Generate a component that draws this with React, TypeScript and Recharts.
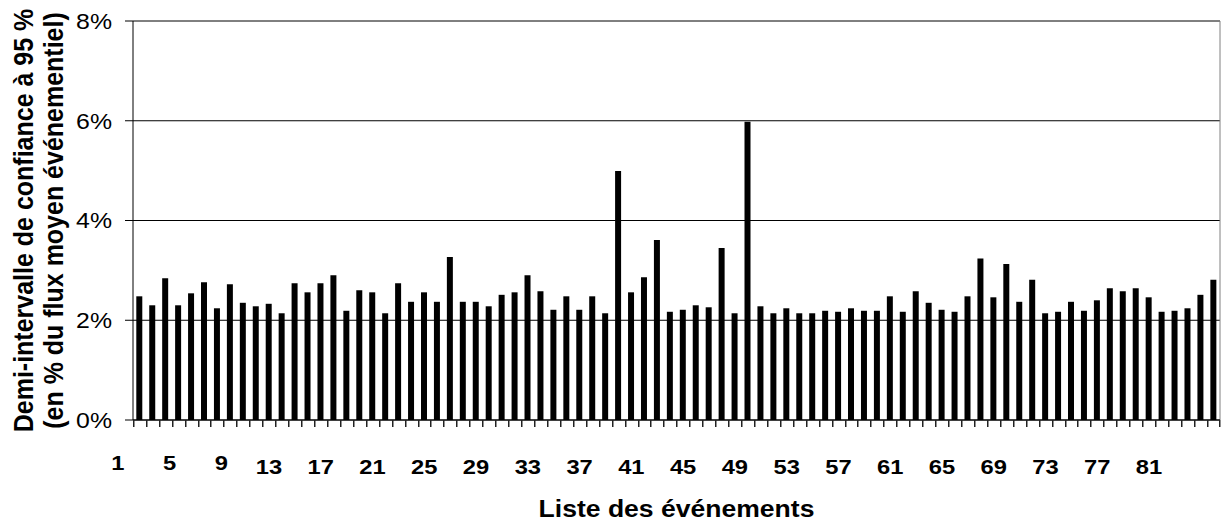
import React from 'react';
import { BarChart, Bar, XAxis, YAxis, CartesianGrid, ReferenceLine, Label, LabelList } from 'recharts';

const events = [
  '1', '2', '3', '4', '5', '6', '7', '8', '9', '10', '11', '12', '13', '14', '15', '16', '17', '18', '19', '20', '21',
  '22', '23', '24', '25', '26', '27', '28', '29', '30', '31', '32', '33', '34', '35', '36', '37', '38', '39', '40', '41', '42',
  '43', '44', '45', '46', '47', '48', '49', '50', '51', '52', '53', '54', '55', '56', '57', '58', '59', '60', '61', '62', '63',
  '64', '65', '66', '67', '68', '69', '70', '71', '72', '73', '74', '75', '76', '77', '78', '79', '80', '81', '82', '83', '84',
];

const halfInterval = [
  2.48, 2.30, 2.84, 2.30, 2.54, 2.76, 2.24, 2.72, 2.35, 2.28, 2.33, 2.14, 2.74, 2.56, 2.74, 2.90, 2.19, 2.60, 2.56, 2.14, 2.74,
  2.37, 2.56, 2.37, 3.27, 2.37, 2.37, 2.28, 2.51, 2.56, 2.90, 2.58, 2.21, 2.48, 2.21, 2.48, 2.14, 4.99, 2.56, 2.86, 3.61, 2.17,
  2.21, 2.30, 2.26, 3.45, 2.14, 5.98, 2.28, 2.14, 2.24, 2.14, 2.14, 2.19, 2.17, 2.24, 2.19, 2.19, 2.48, 2.17, 2.58, 2.35, 2.21,
  2.17, 2.48, 3.24, 2.46, 3.13, 2.37, 2.81, 2.14, 2.17, 2.37, 2.19, 2.40, 2.64, 2.58, 2.64, 2.46, 2.17, 2.19, 2.24, 2.51, 2.81,
];

const yTicks = [0, 2, 4, 6, 8];
const labelEvery = 4;
const yTitleLines = ['Demi-intervalle de confiance à 95 %', '(en % du flux moyen événementiel)'];
const xTitle = 'Liste des événements';

const data = events.map((e, i) => ({ event: e, value: halfInterval[i] }));

const FONT = '"Liberation Sans", Arial, Helvetica, sans-serif';
const SX = 1.13;
const W = 1221;
const H = 529;
const MARGIN = { top: 21, right: 1, bottom: 49, left: 73 };
const Y_AXIS_W = 60;
const X_AXIS_H = 60;
const PLOT_W = W - MARGIN.left - MARGIN.right - Y_AXIS_W;
const HALF_BAND = PLOT_W / events.length / 2;
const XT_FONT = 21;
const TICK_COLOR = '#222222';

function renderEventTick(props: any) {
  const { x, y, width, height, index, value } = props;
  const cx = Number(x) + Number(width) / 2;
  const by = Number(y) + Number(height);
  const i = Number(index);
  const left = Math.round(cx - HALF_BAND);
  const right = Math.round(cx + HALF_BAND) - 1;
  let label: any = null;
  if (i % labelEvery === 0) {
    const w = 0.556 * XT_FONT * String(value).length;
    const cap = 0.716 * XT_FONT;
    const ax = cx - 12;
    const ay = by + 44;
    const lx = ax - (0.707 * (w + cap)) / 2;
    const ly = ay + (0.707 * (w - cap)) / 2;
    label = (
      <g transform={`translate(${lx},${ly}) scale(${SX},1)`}>
        <text
          x={0}
          y={0}
          dy="0.355em"
          textAnchor="middle"
          fontSize={XT_FONT}
          fontWeight="bold"
          fontFamily={FONT}
          fill="#000"
        >
          {value}
        </text>
      </g>
    );
  }
  return (
    <g key={`evt-${i}`}>
      <rect x={left} y={by} width={1.5} height={7} fill={TICK_COLOR} />
      {i === events.length - 1 ? <rect x={right} y={by} width={1.5} height={7} fill={TICK_COLOR} /> : null}
      {label}
    </g>
  );
}

function renderYTick(props: any) {
  const { x, y, payload } = props;
  return (
    <g transform={`translate(${x},${y}) scale(${SX},1)`}>
      <text x={0} y={0} textAnchor="end" dy="0.355em" fontSize={22} fontFamily={FONT} fill="#000">
        {`${payload.value}%`}
      </text>
    </g>
  );
}

function YTitle(props: any) {
  const vb = props.viewBox || { x: MARGIN.left, y: MARGIN.top, width: Y_AXIS_W, height: 399 };
  const cy = vb.y + vb.height / 2;
  const baselines = [33, 63];
  return (
    <g>
      {yTitleLines.map((t, i) => (
        <g key={i} transform={`translate(${baselines[i]},${cy}) scale(${SX},1) rotate(-90)`}>
          <text x={0} y={0} textAnchor="middle" fontSize={25} fontWeight="bold" fontFamily={FONT} fill="#000">
            {t}
          </text>
        </g>
      ))}
    </g>
  );
}

function XTitle(props: any) {
  const vb = props.viewBox || { x: MARGIN.left + Y_AXIS_W, y: 420, width: PLOT_W, height: X_AXIS_H };
  const cx = vb.x + vb.width / 2;
  return (
    <g transform={`translate(${cx},517) scale(${SX},1)`}>
      <text x={0} y={0} textAnchor="middle" fontSize={23.5} fontWeight="bold" fontFamily={FONT} fill="#000">
        {xTitle}
      </text>
    </g>
  );
}

export default function App() {
  return (
    <div style={{ position: 'absolute', left: 0, top: 0, width: W, height: H, background: '#fff' }}>
      <BarChart width={W} height={H} data={data} margin={MARGIN} barCategoryGap="25.5%">
        <CartesianGrid vertical={false} stroke="#000" strokeWidth={1} />
        <ReferenceLine y={8} stroke="#808080" strokeWidth={1} />
        <ReferenceLine x={events[events.length - 1]} position="end" stroke="#808080" strokeWidth={1} />
        <XAxis
          dataKey="event"
          type="category"
          interval={0}
          height={X_AXIS_H}
          tick={false}
          tickLine={false}
          axisLine={{ stroke: '#000', strokeWidth: 1 }}
        >
          <Label content={(p: any) => <XTitle {...p} />} />
        </XAxis>
        <YAxis
          type="number"
          domain={[0, 8]}
          ticks={yTicks}
          width={Y_AXIS_W}
          tickSize={8}
          tickMargin={13}
          axisLine={{ stroke: '#000', strokeWidth: 1 }}
          tickLine={{ stroke: '#000', strokeWidth: 1 }}
          tick={renderYTick}
        >
          <Label content={(p: any) => <YTitle {...p} />} />
        </YAxis>
        <Bar dataKey="value" fill="#000" isAnimationActive={false}>
          <LabelList dataKey="event" content={renderEventTick} />
        </Bar>
      </BarChart>
    </div>
  );
}
